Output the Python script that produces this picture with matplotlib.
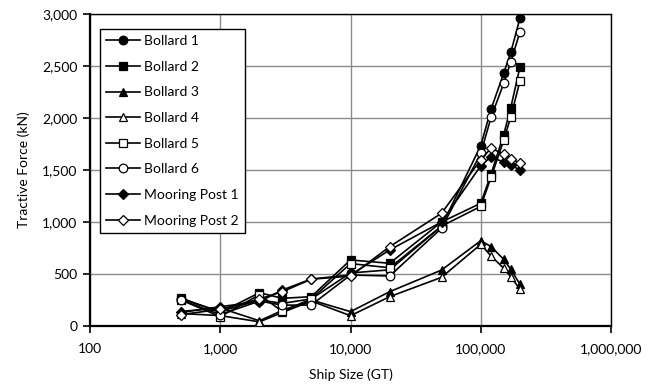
import matplotlib
matplotlib.use("Agg")
import matplotlib.pyplot as plt
from matplotlib.ticker import FuncFormatter, FixedLocator, NullLocator

plt.rcParams['font.family'] = ['Lato', 'DejaVu Sans']

ship_size = [500, 1000, 2000, 3000, 5000, 10000, 20000, 50000, 100000, 120000, 150000, 170000, 200000]

bollard1 = [260, 140, 250, 218, 260, 510, 540, 960, 1734, 2085, 2430, 2630, 2960]
bollard2 = [270, 130, 320, 266, 282, 635, 603, 1000, 1180, 1460, 1840, 2100, 2490]
bollard3 = [140, 173, 50, 150, 250, 138, 330, 538, 820, 763, 641, 545, 401]
bollard4 = [120, 100, 40, 130, 240, 99, 282, 468, 785, 673, 555, 474, 353]
bollard5 = [250, 90, 300, 140, 260, 600, 560, 960, 1150, 1430, 1785, 2010, 2356]
bollard6 = [250, 110, 240, 200, 202, 490, 481, 940, 1660, 2006, 2333, 2540, 2827]
mooring1 = [130, 186, 234, 346, 452, 490, 731, 1000, 1540, 1628, 1574, 1548, 1500]
mooring2 = [110, 160, 260, 330, 450, 480, 763, 1084, 1600, 1709, 1654, 1606, 1570]

labels = ['Bollard 1', 'Bollard 2', 'Bollard 3', 'Bollard 4', 'Bollard 5', 'Bollard 6',
          'Mooring Post 1', 'Mooring Post 2']
series = [bollard1, bollard2, bollard3, bollard4, bollard5, bollard6, mooring1, mooring2]
markers = ['o', 's', '^', '^', 's', 'o', 'D', 'D']
filled = [True, True, True, False, False, False, True, False]
msizes = [6.2, 6.2, 6.2, 6.2, 6.2, 6.2, 4.6, 4.6]

x_ticks = [100, 1000, 10000, 100000, 1000000]
y_ticks = [0, 500, 1000, 1500, 2000, 2500, 3000]

fig = plt.figure(figsize=(6.55, 3.88), dpi=100)
ax = fig.add_axes([90/655, 1 - 326/388, (611-90)/655, (326-14)/388])

for vals, lab, m, f, ms in zip(series, labels, markers, filled, msizes):
    ax.plot(ship_size, vals, color='black', linewidth=1.2, marker=m, markersize=ms,
            markerfacecolor='black' if f else 'white', markeredgecolor='black',
            markeredgewidth=0.9, label=lab, zorder=3)

ax.set_xscale('log')
ax.set_xlim(100, 1000000)
ax.set_ylim(0, 3000)
ax.xaxis.set_major_locator(FixedLocator(x_ticks))
ax.xaxis.set_minor_locator(NullLocator())
ax.yaxis.set_major_locator(FixedLocator(y_ticks))
ax.xaxis.set_major_formatter(FuncFormatter(lambda v, p: f"{int(round(v)):,}"))
ax.yaxis.set_major_formatter(FuncFormatter(lambda v, p: f"{int(round(v)):,}"))

ax.grid(True, which='major', color='#8c8c8c', linewidth=1.0, zorder=0)
ax.set_axisbelow(True)

for s in ['left', 'bottom']:
    ax.spines[s].set_linewidth(1.6)
for s in ['top', 'right']:
    ax.spines[s].set_linewidth(1.0)
for s in ax.spines.values():
    s.set_color('black')

ax.tick_params(axis='both', which='major', direction='out', length=5, width=1.2,
               labelsize=10, colors='black', pad=4)
ax.tick_params(axis='x', pad=7)

ax.set_xlabel('Ship Size (GT)', fontsize=10, labelpad=10)
ax.set_ylabel('Tractive Force (kN)', fontsize=10, labelpad=9)

leg = ax.legend(loc='upper left', bbox_to_anchor=(10/521, 1 - 15/312), frameon=True,
                fancybox=False, edgecolor='black', framealpha=1, fontsize=10,
                handlelength=2.4, handletextpad=0.3, labelspacing=0.98,
                borderpad=0.45, borderaxespad=0)
leg.get_frame().set_linewidth(1.0)

fig.savefig('out.png', dpi=100)
